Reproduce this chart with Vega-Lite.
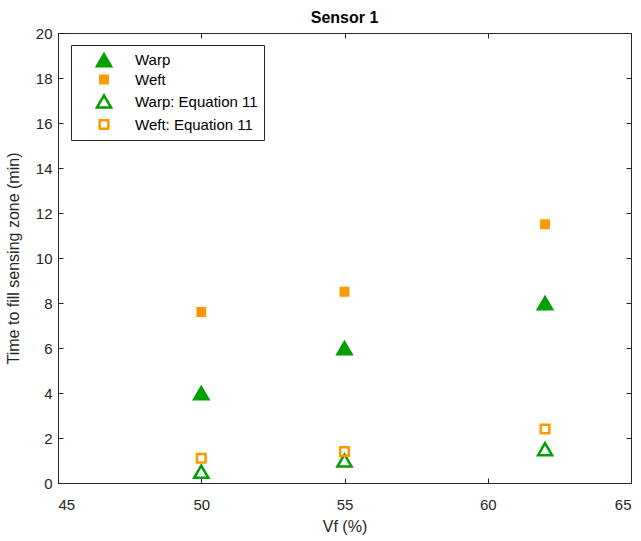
{
  "$schema": "https://vega.github.io/schema/vega-lite/v6.json",
  "width": 573,
  "height": 450,
  "autosize": "none",
  "padding": {"left": 58, "top": 33, "right": 10, "bottom": 58},
  "background": "white",
  "title": {"text": "Sensor 1", "fontSize": 16, "fontWeight": "bold", "font": "Liberation Sans", "color": "#000000", "offset": 0},
  "data": {
    "values": [
      {"vf": 50, "time": 4.0, "series": "Warp"},
      {"vf": 55, "time": 6.0, "series": "Warp"},
      {"vf": 62, "time": 8.0, "series": "Warp"},
      {"vf": 50, "time": 7.6, "series": "Weft"},
      {"vf": 55, "time": 8.5, "series": "Weft"},
      {"vf": 62, "time": 11.5, "series": "Weft"},
      {"vf": 50, "time": 0.5, "series": "Warp: Equation 11"},
      {"vf": 55, "time": 1.0, "series": "Warp: Equation 11"},
      {"vf": 62, "time": 1.5, "series": "Warp: Equation 11"},
      {"vf": 50, "time": 1.1, "series": "Weft: Equation 11"},
      {"vf": 55, "time": 1.4, "series": "Weft: Equation 11"},
      {"vf": 62, "time": 2.4, "series": "Weft: Equation 11"}
    ]
  },
  "layer": [
    {
      "mark": {"type": "point", "opacity": 0},
      "encoding": {
        "x": {"field": "vf", "type": "quantitative", "scale": {"domain": [45, 65], "nice": false, "zero": false},
              "axis": {"orient": "top", "labels": false, "title": null, "values": [45, 50, 55, 60, 65], "tickSize": -5, "domain": false}},
        "y": {"field": "time", "type": "quantitative", "scale": {"domain": [0, 20], "nice": false},
              "axis": {"orient": "right", "labels": false, "title": null, "values": [0, 2, 4, 6, 8, 10, 12, 14, 16, 18, 20], "tickSize": -5, "domain": false}}
      }
    },
    {
      "mark": {"type": "point", "opacity": 1},
      "encoding": {
        "x": {"field": "vf", "type": "quantitative", "scale": {"domain": [45, 65], "nice": false, "zero": false},
              "axis": {"orient": "bottom", "title": "Vf (%)", "values": [45, 50, 55, 60, 65], "tickSize": -5, "labelPadding": 19, "domain": false}},
        "y": {"field": "time", "type": "quantitative", "scale": {"domain": [0, 20], "nice": false},
              "axis": {"orient": "left", "title": "Time to fill sensing zone (min)", "values": [0, 2, 4, 6, 8, 10, 12, 14, 16, 18, 20], "tickSize": -5, "labelPadding": 11, "domain": false}},
        "shape": {"field": "series", "type": "nominal",
                  "scale": {"domain": ["Warp", "Weft", "Warp: Equation 11", "Weft: Equation 11"], "range": ["triangle-up", "square", "triangle-up", "square"]},
                  "legend": {"title": null}},
        "fill": {"field": "series", "type": "nominal",
                 "scale": {"domain": ["Warp", "Weft", "Warp: Equation 11", "Weft: Equation 11"], "range": ["#00a000", "#ff9900", "transparent", "transparent"]},
                 "legend": {"title": null}},
        "stroke": {"field": "series", "type": "nominal",
                   "scale": {"domain": ["Warp", "Weft", "Warp: Equation 11", "Weft: Equation 11"], "range": ["#00a000", "#ff9900", "#00a000", "#ff9900"]},
                   "legend": {"title": null}},
        "size": {"field": "series", "type": "nominal",
                 "scale": {"type": "ordinal", "domain": ["Warp", "Weft", "Warp: Equation 11", "Weft: Equation 11"], "range": [250, 70, 200, 75]},
                 "legend": {"title": null}},
        "strokeWidth": {"field": "series", "type": "nominal",
                 "scale": {"type": "ordinal", "domain": ["Warp", "Weft", "Warp: Equation 11", "Weft: Equation 11"], "range": [1.5, 1.5, 2.5, 2.5]},
                 "legend": {"title": null}}
      }
    }
  ],
  "resolve": {"axis": {"x": "independent", "y": "independent"}},
  "config": {
    "view": {"stroke": "#262626", "strokeWidth": 1},
    "font": "Liberation Sans",
    "axis": {
      "grid": false,
      "tickColor": "#262626",
      "labelColor": "#262626",
      "titleColor": "#262626",
      "labelFontSize": 15,
      "titleFontSize": 16,
      "titleFontWeight": "normal",
      "labelFont": "Liberation Sans",
      "titleFont": "Liberation Sans"
    },
    "axisX": {"titlePadding": 6},
    "axisY": {"titlePadding": 14},
    "legend": {
      "orient": "none",
      "legendX": 13,
      "legendY": 12,
      "strokeColor": "#262626",
      "fillColor": "white",
      "padding": 6,
      "symbolOffset": 18,
      "labelOffset": 22,
      "labelFontSize": 15,
      "labelColor": "#000000",
      "labelFont": "Liberation Sans",
      "rowPadding": 2,
      "labelLimit": 300
    }
  }
}
